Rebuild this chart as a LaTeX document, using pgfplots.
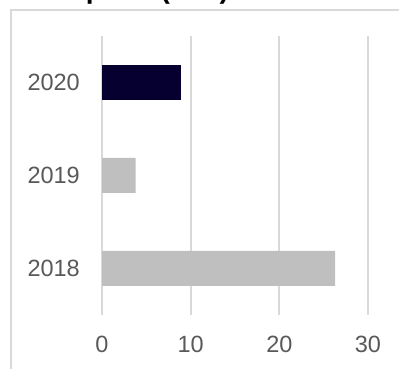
\documentclass[border=0pt]{standalone}
\usepackage{pgfplots}
\pgfplotsset{compat=1.18}
\usepackage{fontspec}
\setmainfont{Liberation Sans}
\definecolor{navy}{RGB}{5,0,48}
\definecolor{bargray}{RGB}{191,191,191}
\definecolor{gridgray}{RGB}{217,217,217}
\definecolor{labgray}{RGB}{89,89,89}
\begin{document}
\begin{tikzpicture}
\useasboundingbox (0,0) rectangle (399bp,369bp);
\clip (0,0) rectangle (399bp,369bp);
\draw[gridgray, line width=2bp] (11bp,-5bp) -- (11bp,359bp) -- (410bp,359bp);
\node[anchor=base west, inner sep=0pt, font=\fontsize{28bp}{32bp}\selectfont\bfseries] at (11bp,370bp) {on deposit (£bn)};
\begin{axis}[
  at={(102bp,54bp)}, anchor=south west,
  scale only axis, width=266bp, height=279bp,
  xbar, bar width=35bp,
  xmin=0, xmax=30, ymin=-0.5, ymax=2.5,
  xtick={0,10,20,30}, ytick={0,1,2}, yticklabels={2018,2019,2020},
  axis line style={draw=none},
  major tick length=0pt,
  xmajorgrids, grid style={gridgray, line width=2bp},
  tick label style={font=\fontsize{23.5bp}{27bp}\selectfont, text=labgray},
  /pgf/number format/assume math mode=true,
  yticklabel style={anchor=east, inner sep=0pt, xshift=-22bp},
  xticklabel style={anchor=north, inner sep=0pt, yshift=-21bp},
  clip=false,
]
\addplot[fill=bargray, draw=none, bar shift=0pt] coordinates {(26.3,0) (3.8,1)};
\addplot[fill=navy, draw=none, bar shift=0pt] coordinates {(8.9,2)};
\end{axis}
\end{tikzpicture}
\end{document}
